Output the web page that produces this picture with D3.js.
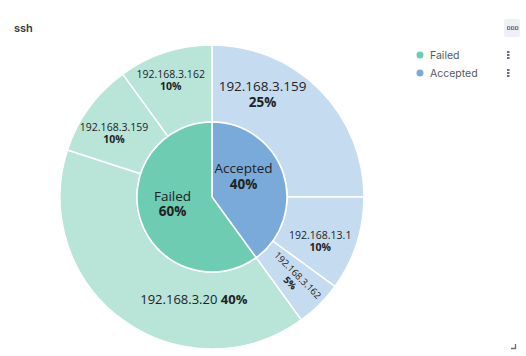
<!DOCTYPE html>
<html><head><meta charset="utf-8">
<script src="https://cdn.jsdelivr.net/npm/d3@7"></script>
<style>
body{margin:0;background:#fff;}
svg{display:block;}
</style></head>
<body>
<svg id="c" width="526" height="356"></svg>
<script>
const title = "ssh";
const groups = ["Accepted", "Failed"];
const groupValues = [40, 60];
const childGroup = ["Accepted", "Accepted", "Accepted", "Failed", "Failed", "Failed"];
const childLabels = ["192.168.3.159", "192.168.13.1", "192.168.3.162", "192.168.3.20", "192.168.3.159", "192.168.3.162"];
const childValues = [25, 10, 5, 40, 10, 10];
const legendItems = ["Failed", "Accepted"];

const innerColor = {Failed: "#6dccb1", Accepted: "#79aad9"};
const outerColor = {Failed: "#b8e5d8", Accepted: "#c5dcf0"};

const svg = d3.select("#c");
const cx = 212, cy = 197, rIn = 75, rOut = 152;
const g = svg.append("g").attr("transform", `translate(${cx},${cy})`);

const pie = d3.pie().sort(null).value(d => d.v);
const innerData = pie(groups.map((k, i) => ({k, v: groupValues[i]})));
const outerData = pie(childLabels.map((k, i) => ({k, g: childGroup[i], v: childValues[i]})));

const arcIn = d3.arc().innerRadius(0).outerRadius(rIn);
const arcOut = d3.arc().innerRadius(rIn).outerRadius(rOut);

g.selectAll("path.out").data(outerData).join("path").attr("class", "out")
  .attr("d", arcOut).attr("fill", d => outerColor[d.data.g])
  .attr("stroke", "#fff").attr("stroke-width", 1.5);
g.selectAll("path.in").data(innerData).join("path").attr("class", "in")
  .attr("d", arcIn).attr("fill", d => innerColor[d.data.k])
  .attr("stroke", "#fff").attr("stroke-width", 1.5);

// label layout styles: angle fraction in slice, radius, font size, mode
const innerStyle = [
  {f: 0.39, r: 38, fs: 13.5},
  {f: 0.54, r: 40, fs: 13.5}
];
const outerStyle = [
  {f: 0.29, r: 115, fs: 13.5, mode: "two"},
  {f: 0.62, r: 117, fs: 10.5, mode: "two"},
  {f: 0.5, r: 116, fs: 9.5, mode: "rot"},
  {f: 0.32, r: 104, fs: 13, mode: "one"},
  {f: 0.42, r: 117, fs: 10.5, mode: "two"},
  {f: 0.46, r: 124, fs: 10.5, mode: "two"}
];
const pct = v => Math.round(v) + "%";
const font = "'Open Sans', sans-serif";

function pos(d, s) {
  const a = d.startAngle + (d.endAngle - d.startAngle) * s.f;
  return [s.r * Math.sin(a), -s.r * Math.cos(a), a];
}
function twoLine(parent, x, y, name, val, fs) {
  const t = parent.append("text").attr("text-anchor", "middle")
    .attr("font-family", font).attr("font-size", fs).attr("fill", "#222")
    .attr("transform", `translate(${x},${y})`);
  t.append("tspan").attr("x", 0).attr("y", -fs * 0.2).text(name);
  t.append("tspan").attr("x", 0).attr("y", fs * 0.95).attr("font-weight", "bold").text(val);
  return t;
}

innerData.forEach((d, i) => {
  const s = innerStyle[i]; const [x, y] = pos(d, s);
  twoLine(g, x, y, d.data.k, pct(d.data.v), s.fs);
});
outerData.forEach((d, i) => {
  const s = outerStyle[i]; const [x, y, a] = pos(d, s);
  if (s.mode === "one") {
    const t = g.append("text").attr("text-anchor", "middle").attr("font-family", font)
      .attr("font-size", s.fs).attr("fill", "#222").attr("x", x).attr("y", y + s.fs * 0.35);
    t.append("tspan").text(d.data.k + " ");
    t.append("tspan").attr("font-weight", "bold").text(pct(d.data.v));
  } else if (s.mode === "rot") {
    const t = twoLine(g, x, y, d.data.k, pct(d.data.v), s.fs);
    const deg = a * 180 / Math.PI - 90;
    t.attr("transform", `translate(${x},${y}) rotate(${deg})`);
  } else {
    twoLine(g, x, y, d.data.k, pct(d.data.v), s.fs);
  }
});

// title
svg.append("text").attr("x", 14).attr("y", 32).attr("font-family", "Inter, sans-serif")
  .attr("font-size", 11).attr("font-weight", 600).attr("fill", "#343741").text(title);

// legend
const leg = svg.append("g");
legendItems.forEach((k, i) => {
  const y = 55 + i * 18;
  leg.append("circle").attr("cx", 420).attr("cy", y).attr("r", 3.5).attr("fill", innerColor[k]);
  leg.append("text").attr("x", 430).attr("y", y + 3.8).attr("font-family", "Inter, sans-serif")
    .attr("font-size", 10.5).attr("fill", "#535966").text(k);
  [-3, 0, 3].forEach(dy => leg.append("rect").attr("x", 507).attr("y", y + dy - 1)
    .attr("width", 2.5).attr("height", 2).attr("fill", "#69707d"));
});

// top-right button
svg.append("rect").attr("x", 504).attr("y", 19).attr("width", 16).attr("height", 18).attr("rx", 2).attr("fill", "#edf0f5");
[0, 4, 8].forEach(dx => svg.append("rect").attr("x", 507.5 + dx).attr("y", 26.8)
  .attr("width", 2.4).attr("height", 2.6).attr("fill", "none").attr("stroke", "#69707d").attr("stroke-width", 0.9));

// corner mark
svg.append("path").attr("d", "M511,348.5 H515.5 V344").attr("fill", "none").attr("stroke", "#69707d").attr("stroke-width", 1.3);
</script>
</body></html>
